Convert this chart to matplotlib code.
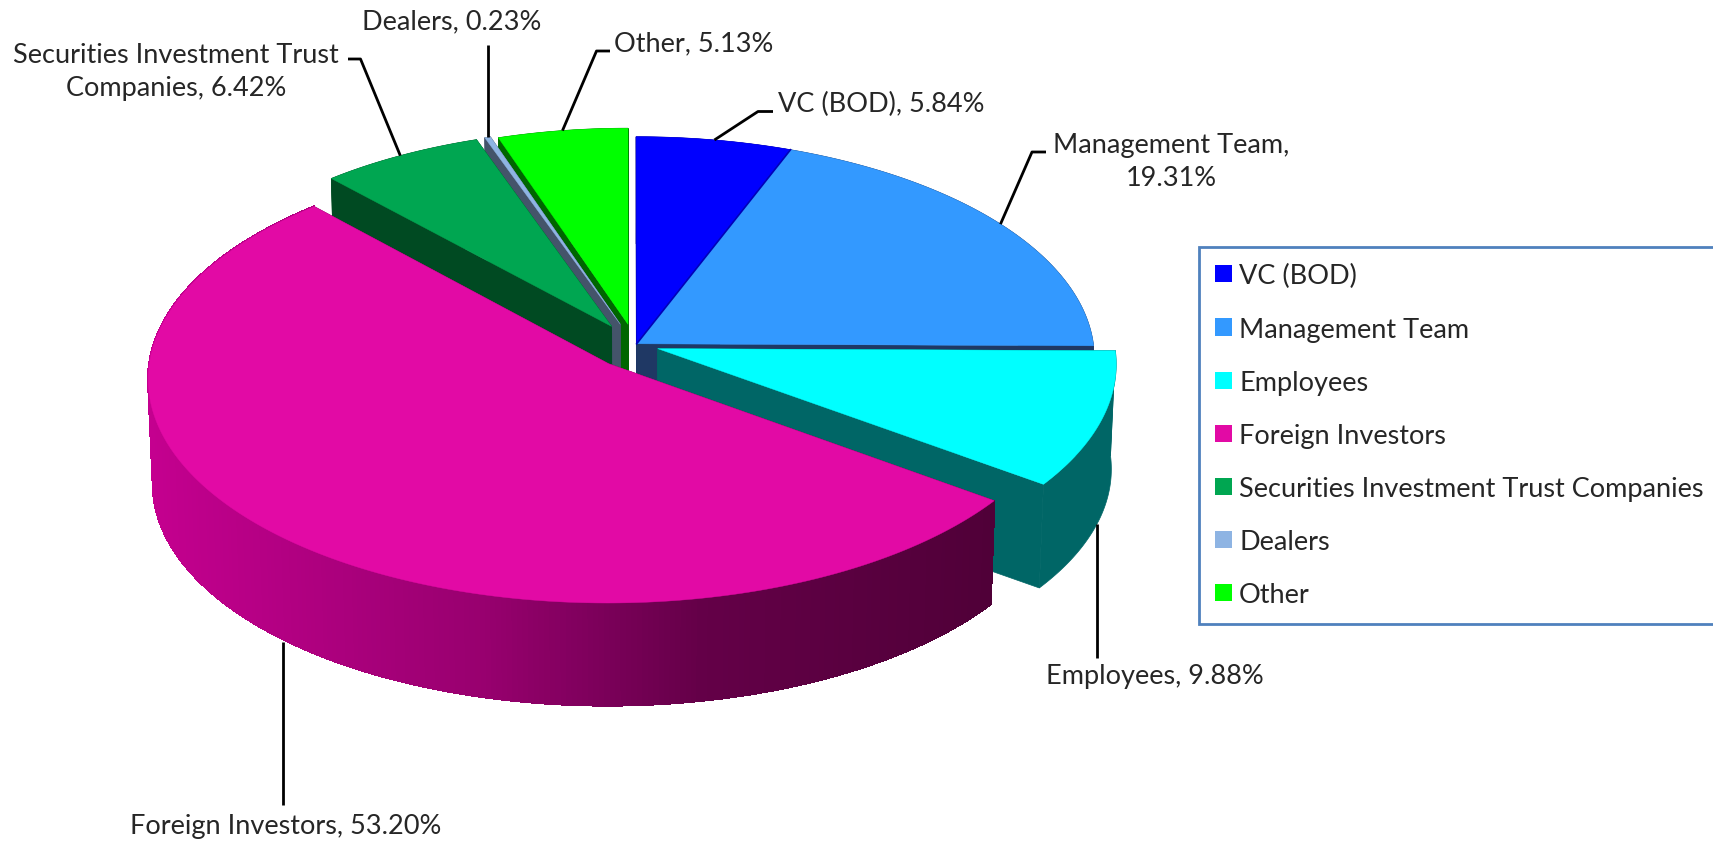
import matplotlib
matplotlib.use("Agg")
import matplotlib.pyplot as plt
import numpy as np
from matplotlib.collections import PolyCollection
from matplotlib.patches import Patch

categories = ["VC (BOD)", "Management Team", "Employees", "Foreign Investors",
              "Securities Investment Trust Companies", "Dealers", "Other"]
shares = [5.84, 19.31, 9.88, 53.20, 6.42, 0.23, 5.13]
top_colors = ["#0000FF", "#3399FF", "#00FFFF", "#E20AA5", "#00A651", "#8EB4E3", "#00FF00"]
side_colors = ["#00008B", "#1F3864", "#006666", "#7A0059", "#004A22", "#44546A", "#006600"]

# slice offsets on the pie plane and radius factor, in pie radii
offset_x = [0.019, 0.019, 0.065, -0.042, -0.036, -0.017, 0.0]
offset_y = [0.01, 0.01, -0.012, -0.08, 0.089, 0.099, 0.099]
radius = [1.0, 1.0, 1.0, 1.0, 0.96, 0.96, 0.955]

# wrapped data labels, text anchor and ha
label_lines = ["VC (BOD), {}", "Management Team,\n{}", "Employees, {}", "Foreign Investors, {}",
               "Securities Investment Trust\nCompanies, {}", "Dealers, {}", "Other, {}"]
label_pos = [(778, 104), (1171, 162), (1155, 677), (286, 827), (176, 72), (452, 22), (614, 44)]
label_ha = ["left", "center", "center", "center", "center", "center", "left"]
# leader lines run from the slice to these points, None keeps the x of the slice
leader_via = [[(758, 112.5), (773, 112.5)], [(1032, 153), (1046, 153)], [(None, 659)], [(None, 806)],
              [(360.5, 60), (348, 60)], [(None, 46)], [(596.5, 52), (610, 52)]]
leader_from_base = [False, False, True, True, False, False, False]
leader_shift = [0, 0, 0, -6, 0, 0, 0]

# projection of the pie, in image pixels
CX, CY = 628, 347
RX, RY = 457, 221
PERSP = 0.066
SHRINK = 0.99
DEPTH = 105

# shading of the foreign investors rim, left to right
shade_x = [148, 480, 700, 990]
shade_rgb = np.array([[0xC4, 0x00, 0x8F], [0x98, 0x00, 0x6F], [0x64, 0x00, 0x48], [0x50, 0x00, 0x38]]) / 255


def top_point(i, theta, r=None):
    r = radius[i] if r is None else r
    px = offset_x[i] + r * np.sin(theta)
    py = offset_y[i] + r * np.cos(theta)
    k = 1 / (1 + PERSP * py)
    return CX + px * RX * k, CY - py * RY * k


def drop(x, y):
    return CX + (x - CX) * SHRINK, CY + (y - CY) * SHRINK + DEPTH


def draw_slice(ax, i, t0, t1):
    th = np.linspace(t0, t1, 300)
    x, y = top_point(i, th)
    ax_, ay_ = top_point(i, 0.0, 0.0)
    bx, by = drop(x, y)
    abx, aby = drop(ax_, ay_)

    # cut faces
    for j in (0, -1):
        ax.fill([ax_, x[j], bx[j], abx], [ay_, y[j], by[j], aby],
                color=side_colors[i], lw=0.5)
    # rim
    if categories[i] == "Foreign Investors":
        quads = []
        cols = []
        for a in range(len(th) - 1):
            quads.append([(x[a], y[a]), (x[a + 1], y[a + 1]), (bx[a + 1], by[a + 1]), (bx[a], by[a])])
            mid = (x[a] + x[a + 1]) / 2
            cols.append([np.interp(mid, shade_x, shade_rgb[:, c]) for c in range(3)])
        ax.add_collection(PolyCollection(quads, facecolors=cols, edgecolors=cols, linewidths=1,
                                         antialiaseds=False))
    else:
        ax.fill(np.r_[x, bx[::-1]], np.r_[y, by[::-1]], color=side_colors[i], lw=0.5)
    # top
    ax.fill(np.r_[ax_, x], np.r_[ay_, y], color=top_colors[i], lw=0.3)


def main():
    plt.rcParams["font.family"] = ["Lato", "DejaVu Sans"]
    fig = plt.figure(figsize=(17.13, 8.45), dpi=100)
    ax = fig.add_axes([0, 0, 1, 1])
    ax.set_xlim(0, 1713)
    ax.set_ylim(845, 0)
    ax.axis("off")

    edges = np.r_[0, np.cumsum(shares)] / sum(shares) * 2 * np.pi
    for i in [6, 5, 4, 0, 1, 2, 3]:
        draw_slice(ax, i, edges[i], edges[i + 1])
        if i == 1:
            # darker seam between VC and management
            vx, vy = top_point(0, edges[1])
            ox, oy = top_point(0, 0.0, 0.0)
            ax.plot([ox, vx], [oy, vy], color="#0000B8", lw=1.2)

    for i, name in enumerate(categories):
        mid = (edges[i] + edges[i + 1]) / 2
        sx, sy = top_point(i, mid)
        if leader_from_base[i]:
            sx, sy = drop(sx, sy)
        sx += leader_shift[i]
        pts = [(sx, sy)] + [(sx if px is None else px, py) for px, py in leader_via[i]]
        ax.plot(*zip(*pts), color="black", lw=2, solid_capstyle="butt", zorder=5)
        ax.text(*label_pos[i], label_lines[i].format(f"{shares[i]:.2f}%"), ha=label_ha[i], va="center",
                fontsize=19.5, color="#262626", linespacing=1.37)

    handles = [Patch(facecolor=c, edgecolor="none") for c in top_colors]
    leg = ax.legend(handles, categories, loc="upper left", bbox_to_anchor=(1199, 248),
                    bbox_transform=ax.transData, borderaxespad=0, fontsize=19.5, frameon=True,
                    fancybox=False, edgecolor="#4F81BD", framealpha=1, handlelength=0.6,
                    handleheight=0.6, handletextpad=0.28, labelspacing=1.04, borderpad=0.6,
                    labelcolor="#262626")
    leg.get_frame().set_linewidth(2)

    fig.savefig("out.png", dpi=100)


if __name__ == "__main__":
    main()
